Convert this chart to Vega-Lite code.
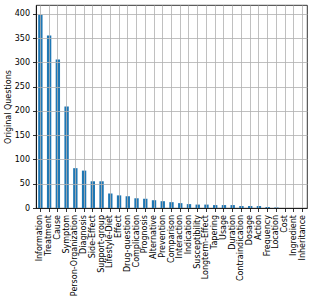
{
  "$schema": "https://vega.github.io/schema/vega-lite/v6.json",
  "width": 271,
  "height": 203,
  "autosize": {"type": "none"},
  "padding": {"left": 36, "top": 5, "right": 7, "bottom": 89},
  "background": "white",
  "config": {
    "view": {"stroke": "black", "strokeWidth": 0.8},
    "font": "DejaVu Sans",
    "axis": {
      "labelFont": "DejaVu Sans",
      "titleFont": "DejaVu Sans",
      "labelFontSize": 8,
      "titleFontSize": 8,
      "titleFontWeight": "normal",
      "labelColor": "black",
      "titleColor": "black",
      "tickColor": "black",
      "tickSize": 3.5,
      "tickWidth": 0.8,
      "domainColor": "black",
      "domainWidth": 0.8,
      "gridColor": "#b0b0b0",
      "gridWidth": 0.8,
      "labelPadding": 3
    }
  },
  "data": {
    "values": [
      {"category": "Information", "count": 398},
      {"category": "Treatment", "count": 355},
      {"category": "Cause", "count": 306},
      {"category": "Symptom", "count": 209},
      {"category": "Person-Organization", "count": 82},
      {"category": "Diagnosis", "count": 77},
      {"category": "Side-Effect", "count": 55},
      {"category": "Support-group", "count": 55},
      {"category": "Lifestyle-Diet", "count": 30},
      {"category": "Effect", "count": 26},
      {"category": "Drug-question", "count": 24},
      {"category": "Complication", "count": 20},
      {"category": "Prognosis", "count": 19},
      {"category": "Alternative", "count": 16},
      {"category": "Prevention", "count": 14},
      {"category": "Comparison", "count": 12},
      {"category": "Interaction", "count": 10},
      {"category": "Indication", "count": 8},
      {"category": "Susceptibility", "count": 7},
      {"category": "Longterm-Effect", "count": 7},
      {"category": "Tapering", "count": 6},
      {"category": "Usage", "count": 6},
      {"category": "Duration", "count": 6},
      {"category": "Contraindication", "count": 4},
      {"category": "Dosage", "count": 4},
      {"category": "Action", "count": 4},
      {"category": "Frequency", "count": 2},
      {"category": "Location", "count": 1},
      {"category": "Cost", "count": 0},
      {"category": "Ingredient", "count": 0},
      {"category": "Inheritance", "count": 0}
    ]
  },
  "mark": {"type": "bar", "color": "#1f77b4"},
  "encoding": {
    "x": {
      "field": "category",
      "type": "nominal",
      "sort": null,
      "scale": {"paddingInner": 0.5, "paddingOuter": 0.25},
      "axis": {
        "title": null,
        "labelAngle": -90,
        "grid": true,
        "bandPosition": 0.5,
        "zindex": 1,
        "labelAlign": "right",
        "labelBaseline": "middle"
      }
    },
    "y": {
      "field": "count",
      "type": "quantitative",
      "scale": {"domain": [0, 418], "nice": false},
      "axis": {
        "title": "Original Questions",
        "values": [0, 50, 100, 150, 200, 250, 300, 350, 400],
        "grid": true,
        "zindex": 1,
        "titlePadding": 2
      }
    }
  }
}
